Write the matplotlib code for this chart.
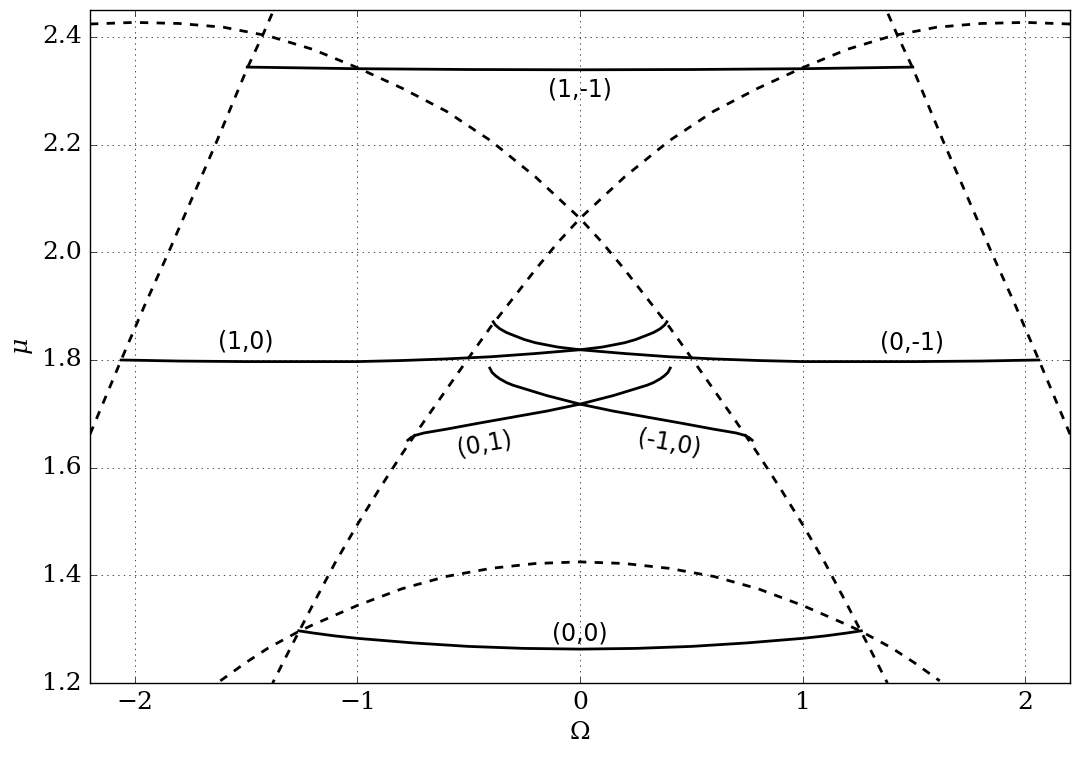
import numpy as np
import matplotlib
matplotlib.use("Agg")
import matplotlib.pyplot as plt

# --- dashed boundary curves ---
# curve falling from the upper left through the centre; its mirror image is drawn too
edge_x = [-2.2, -2.0, -1.8, -1.6, -1.4, -1.2, -1.0, -0.8, -0.6, -0.4, -0.2, 0.0,
          0.1, 0.2, 0.3, 0.4, 0.5, 0.6, 0.7, 0.8, 0.9, 1.0, 1.1, 1.2, 1.3, 1.38]
edge_y = [2.424, 2.427, 2.425, 2.418, 2.402, 2.377, 2.343, 2.305, 2.262, 2.207, 2.140, 2.063,
          2.018, 1.968, 1.915, 1.862, 1.804, 1.745, 1.686, 1.625, 1.561, 1.494, 1.423, 1.345,
          1.265, 1.200]

# steep curve on the left side (mirrored on the right)
steep_x = [-2.2, -2.06, -1.955, -1.843, -1.633, -1.494, -1.424, -1.37]
steep_y = [1.662, 1.800, 1.901, 2.004, 2.204, 2.342, 2.404, 2.455]

# lower dome (right half, mirrored)
dome_x = [0.0, 0.2, 0.4, 0.6, 0.8, 1.0, 1.2, 1.262, 1.4, 1.5, 1.615]
dome_y = [1.425, 1.422, 1.413, 1.398, 1.375, 1.344, 1.308, 1.296, 1.265, 1.238, 1.204]

# --- solid branches ---
b1m1_x = [-1.494, -1.0, -0.5, 0.0, 0.5, 1.0, 1.494]
b1m1_y = [2.344, 2.341, 2.3395, 2.339, 2.3395, 2.341, 2.344]

b10_x = [-2.06, -1.8, -1.5, -1.2, -1.0, -0.8, -0.6, -0.4, -0.2, 0.0,
         0.1, 0.2, 0.25, 0.3, 0.33, 0.36, 0.38, 0.39]
b10_y = [1.800, 1.798, 1.797, 1.797, 1.797, 1.799, 1.802, 1.806, 1.812, 1.819,
         1.824, 1.832, 1.838, 1.846, 1.851, 1.858, 1.865, 1.871]

b01_x = [-0.773, -0.76, -0.74, -0.7, -0.6, -0.45, -0.3, -0.15, 0.0,
         0.15, 0.3, 0.33, 0.36, 0.38, 0.395, 0.405]
b01_y = [1.651, 1.6555, 1.660, 1.6645, 1.6715, 1.683, 1.694, 1.705, 1.718,
         1.734, 1.753, 1.758, 1.765, 1.771, 1.777, 1.785]

b00_x = [0.0, 0.25, 0.5, 0.75, 1.0, 1.1, 1.2, 1.263]
b00_y = [1.263, 1.2643, 1.268, 1.2745, 1.283, 1.2875, 1.293, 1.297]

labels = ["(1,-1)", "(1,0)", "(0,-1)", "(0,1)", "(-1,0)", "(0,0)"]
label_x = [0.0, -1.50, 1.49, -0.43, 0.40, 0.0]
label_y = [2.303, 1.834, 1.832, 1.645, 1.645, 1.292]
label_rot = [0, 0, 0, 10, -10, 0]

plt.style.use("classic")
plt.rcParams["figure.facecolor"] = "white"
plt.rcParams["savefig.facecolor"] = "white"
plt.rcParams["font.family"] = "serif"
plt.rcParams["font.serif"] = ["DejaVu Serif"]
plt.rcParams["mathtext.fontset"] = "dejavuserif"

fig = plt.figure(figsize=(10.79, 7.59), dpi=100)
ax = fig.add_axes([0.0834, 0.1001, 0.9083, 0.8867])


def mirrored(xs, ys):
    # right half -> full symmetric curve
    xs = np.asarray(xs)
    ys = np.asarray(ys)
    return np.r_[-xs[::-1], xs[1:]], np.r_[ys[::-1], ys[1:]]


ex = np.array(edge_x)
sx = np.array(steep_x)
dash = dict(color="k", lw=2, ls="--")
ax.plot(ex, edge_y, **dash)
ax.plot(-ex, edge_y, **dash)
ax.plot(sx, steep_y, **dash)
ax.plot(-sx, steep_y, **dash)
ax.plot(*mirrored(dome_x, dome_y), **dash)

solid = dict(color="k", lw=2, ls="-")
ax.plot(b1m1_x, b1m1_y, **solid)
ax.plot(b10_x, b10_y, **solid)
ax.plot(-np.array(b10_x), b10_y, **solid)
ax.plot(b01_x, b01_y, **solid)
ax.plot(-np.array(b01_x), b01_y, **solid)
ax.plot(*mirrored(b00_x, b00_y), **solid)

for txt, x, y, r in zip(labels, label_x, label_y, label_rot):
    ax.text(x, y, txt, family="DejaVu Sans", fontsize=17, rotation=r,
            ha="center", va="center")

ax.set_xlim(-2.2, 2.2)
ax.set_ylim(1.2, 2.45)
ax.set_xticks([-2, -1, 0, 1, 2])
ax.set_yticks([1.2, 1.4, 1.6, 1.8, 2.0, 2.2, 2.4])
ax.tick_params(labelsize=18, pad=6)
ax.grid(True, color="k", ls=":", lw=0.5)
ax.set_xlabel(r"$\Omega$", fontsize=18)
ax.set_ylabel(r"$\mu$", fontsize=18)

fig.savefig("out.png", dpi=100)
